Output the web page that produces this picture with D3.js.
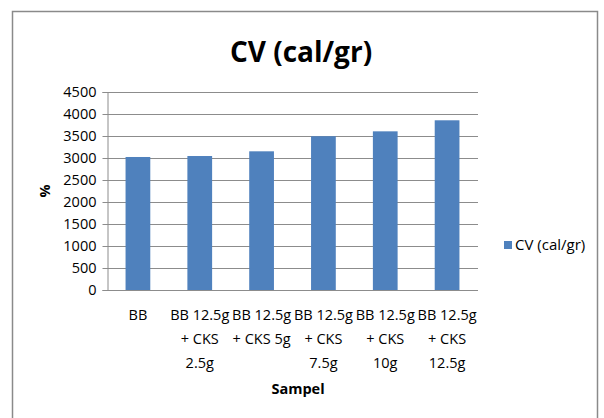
<!DOCTYPE html>
<html><head><meta charset="utf-8">
<script src="https://cdn.jsdelivr.net/npm/d3@7/dist/d3.min.js"></script>
<style>
body{margin:0;background:#fff;}
text{font-family:"Open Sans","Liberation Sans",Arial,sans-serif;fill:#000;}
</style></head>
<body><svg id="c" width="604" height="418"></svg>
<script>
const categories = ["BB", "BB 12.5g\n+ CKS\n2.5g", "BB 12.5g\n+ CKS 5g", "BB 12.5g\n+ CKS\n7.5g", "BB 12.5g\n+ CKS\n10g", "BB 12.5g\n+ CKS\n12.5g"];
const values = [3023, 3045, 3152, 3495, 3606, 3857];
const yTicks = [0, 500, 1000, 1500, 2000, 2500, 3000, 3500, 4000, 4500];
const seriesName = "CV (cal/gr)";
const titleText = "CV (cal/gr)";
const xTitle = "Sampel";
const yTitle = "%";

const svg = d3.select("#c");
const color = "#4f81bd";
const grid = "#8c8c8c";
const L = 107, R = 478, T = 92, B = 290;

// outer frame
svg.append("rect").attr("x", 12.5).attr("y", 11.5).attr("width", 585).attr("height", 420)
  .attr("fill", "none").attr("stroke", "#8a8a8a").attr("stroke-width", 1.5);

const x = d3.scaleBand().domain(categories).range([L, R]).paddingInner(0.6).paddingOuter(0.3);
const y = d3.scaleLinear().domain([0, 4500]).range([B, T]);

// gridlines
svg.append("g").selectAll("line").data(yTicks.filter(d => d > 0)).join("line")
  .attr("x1", L).attr("x2", R).attr("y1", d => Math.round(y(d)) + 0.5).attr("y2", d => Math.round(y(d)) + 0.5)
  .attr("stroke", grid).attr("stroke-width", 1);

// bars
svg.append("g").selectAll("rect").data(values).join("rect")
  .attr("x", (d, i) => x(categories[i])).attr("width", x.bandwidth())
  .attr("y", d => y(d)).attr("height", d => B - y(d)).attr("fill", color);

// y axis
const yAxis = d3.axisLeft(y).tickValues(yTicks).tickSize(5).tickPadding(6).tickFormat(d3.format("d"));
const gy = svg.append("g").attr("transform", `translate(${L + 0.5},0)`).call(yAxis);
gy.select(".domain").attr("stroke", grid);
gy.selectAll(".tick line").attr("stroke", grid);
gy.selectAll(".tick text").attr("font-size", 14.5).attr("font-family", "Open Sans, sans-serif").attr("fill", "#000");

// x axis line
svg.append("line").attr("x1", L).attr("x2", R).attr("y1", B + 0.5).attr("y2", B + 0.5).attr("stroke", grid);

// x labels
const xl = svg.append("g");
categories.forEach(c => {
  const cx = x(c) + x.bandwidth() / 2;
  const t = xl.append("text").attr("text-anchor", "middle").attr("font-size", 14.5);
  c.split("\n").forEach((line, k) => {
    t.append("tspan").attr("x", cx).attr("y", 320 + k * 24).text(line);
  });
});

// titles
svg.append("text").attr("x", 301).attr("y", 62).attr("text-anchor", "middle")
  .attr("font-size", 28).attr("font-weight", "bold").text(titleText);
svg.append("text").attr("x", 298).attr("y", 394).attr("text-anchor", "middle")
  .attr("font-size", 14.5).attr("font-weight", "bold").text(xTitle);
svg.append("text").attr("transform", "translate(50,191) rotate(-90)").attr("text-anchor", "middle")
  .attr("font-size", 14.5).attr("font-weight", "bold").text(yTitle);

// legend
svg.append("rect").attr("x", 504).attr("y", 241).attr("width", 8).attr("height", 8).attr("fill", color);
svg.append("text").attr("x", 515).attr("y", 250).attr("font-size", 15).text(seriesName);
</script></body></html>
